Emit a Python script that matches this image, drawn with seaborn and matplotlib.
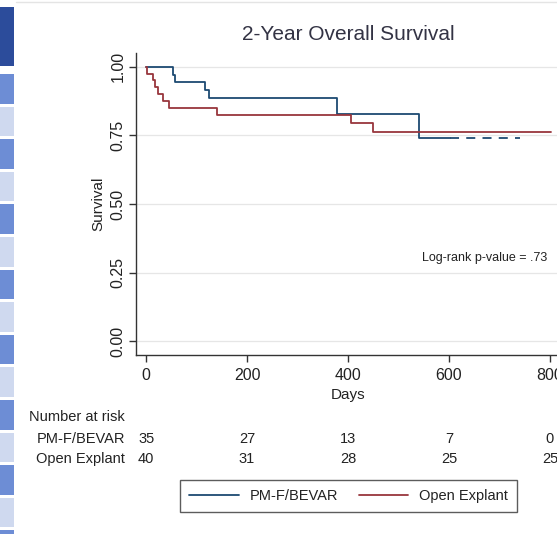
import pandas as pd
import numpy as np
import matplotlib
matplotlib.use('Agg')
import matplotlib.pyplot as plt
import matplotlib.transforms as mtransforms
from matplotlib.patches import Rectangle
from matplotlib.lines import Line2D
import seaborn as sns

sns.set_style('white')
plt.rcParams['font.family'] = ['Liberation Sans', 'DejaVu Sans']

# Kaplan-Meier steps
bev_days = [0, 53, 57, 117, 124, 379, 541, 602]
bev_surv = [1.0, 0.971, 0.943, 0.914, 0.886, 0.828, 0.742, 0.742]
bev_tail_days = [602, 741]
bev_tail_surv = [0.742, 0.742]
open_days = [0, 1, 14, 18, 24, 34, 46, 141, 405, 450, 803]
open_surv = [1.0, 0.975, 0.95, 0.925, 0.90, 0.875, 0.85, 0.825, 0.795, 0.763, 0.763]

groups = ['PM-F/BEVAR', 'Open Explant']
colors = {'PM-F/BEVAR': '#1d4a72', 'Open Explant': '#98363d'}

risk_days = [0, 200, 400, 600, 800]
risk_bev = [35, 27, 13, 7, 0]
risk_open = [40, 31, 28, 25, 25]

y_ticks = [0, 0.25, 0.5, 0.75, 1.0]
y_ticklabels = ['0.00', '0.25', '0.50', '0.75', '1.00']

df = pd.concat([
    pd.DataFrame({'Days': bev_days, 'Survival': bev_surv, 'Group': groups[0]}),
    pd.DataFrame({'Days': open_days, 'Survival': open_surv, 'Group': groups[1]}),
], ignore_index=True)

W, H = 557, 534
fig = plt.figure(figsize=(W / 100, H / 100), dpi=100)
ax = fig.add_axes([136 / W, 1 - 355 / H, (560 - 136) / W, (355 - 53) / H])

# slide decoration strip on the left
def px_rect(y0, h, color):
    fig.add_artist(Rectangle((0, 1 - (y0 + h) / H), 14 / W, h / H,
                             transform=fig.transFigure, color=color, lw=0))

px_rect(7, 59, '#2c4c9b')
for k in range(15):
    px_rect(74 + 32.6 * k, 29.5, '#6d8dd5' if k % 2 == 0 else '#cfd9ef')
fig.add_artist(Line2D([16 / W, 1], [1 - 2 / H, 1 - 2 / H], transform=fig.transFigure,
                      color='#e4e4e4', lw=1))

sns.lineplot(data=df, x='Days', y='Survival', hue='Group', hue_order=groups, palette=colors,
             drawstyle='steps-post', estimator=None, sort=False, linewidth=1.3, ax=ax, legend=False)
ax.plot(bev_tail_days, bev_tail_surv, color=colors[groups[0]], lw=1.3, ls=(0, (5, 4)))

ax.set_xlim(-20, 820)
ax.set_ylim(-0.05, 1.05)
ax.set_xticks(risk_days)
ax.set_yticks(y_ticks)
ax.set_yticklabels(y_ticklabels)
ax.yaxis.grid(True, color='#e6e6e6', lw=0.9)
ax.set_axisbelow(True)
for s in ['top', 'right']:
    ax.spines[s].set_visible(False)
for s in ['left', 'bottom']:
    ax.spines[s].set_color('#333333')
    ax.spines[s].set_linewidth(1.0)
ax.tick_params(axis='both', direction='out', length=5, width=1, color='#333333',
               labelsize=11.5, labelcolor='#222222', left=True, bottom=True)
ax.tick_params(axis='y', labelrotation=90, pad=2.5)
ax.tick_params(axis='x', pad=4)
for lab in ax.get_yticklabels():
    lab.set_va('center')
ax.set_xlabel('Days', fontsize=11, color='#222222', labelpad=4)
ax.set_ylabel('Survival', fontsize=11, color='#222222', labelpad=4)

fig.text(348 / W, 1 - 35 / H, '2-Year Overall Survival', fontsize=15, color='#333344',
         ha='center', va='center')
ax.text((547 - 146) / 0.505, 0.303, 'Log-rank p-value = .73', fontsize=9, color='#222222',
        ha='right', va='center')

# number at risk table
tr = mtransforms.blended_transform_factory(ax.transData, fig.transFigure)
fig.text(125 / W, 1 - 417 / H, 'Number at risk', fontsize=10.5, color='#222222', ha='right', va='center')
fig.text(125 / W, 1 - 439 / H, groups[0], fontsize=10.5, color='#222222', ha='right', va='center')
fig.text(125 / W, 1 - 459 / H, groups[1], fontsize=10.5, color='#222222', ha='right', va='center')
for d, a, b in zip(risk_days, risk_bev, risk_open):
    ax.text(d, 1 - 439 / H, str(a), transform=tr, fontsize=10.5, color='#222222',
            ha='center', va='center', clip_on=False)
    ax.text(d, 1 - 459 / H, str(b), transform=tr, fontsize=10.5, color='#222222',
            ha='center', va='center', clip_on=False)

handles = [Line2D([], [], color=colors[g], lw=1.3) for g in groups]
leg = fig.legend(handles, groups, loc='center', bbox_to_anchor=(348.5 / W, 1 - 496 / H), ncol=2,
                 fontsize=10.5, frameon=True, fancybox=False, edgecolor='#333333',
                 handlelength=3.4, handletextpad=0.75, columnspacing=1.4, borderpad=0.6)
leg.get_frame().set_linewidth(1.0)
for t in leg.get_texts():
    t.set_color('#222222')

fig.savefig('out.png', dpi=100)
